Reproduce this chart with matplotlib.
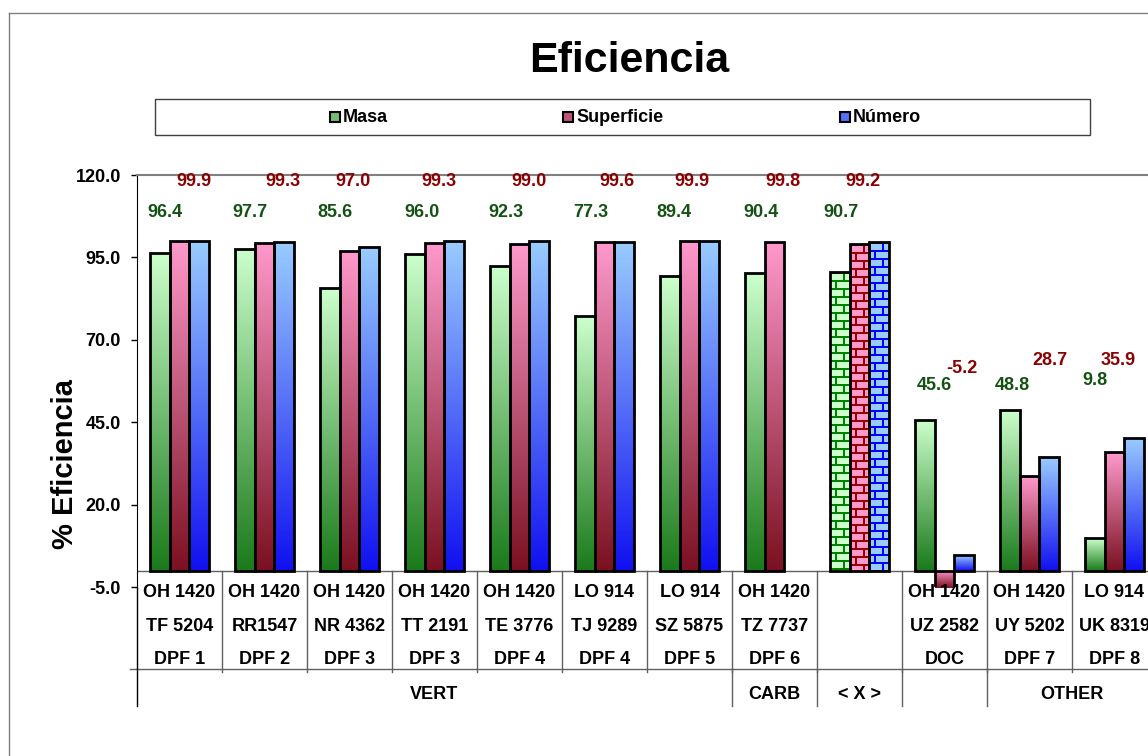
import matplotlib.pyplot as plt
import numpy as np
from matplotlib.colors import LinearSegmentedColormap, to_rgb
from matplotlib.lines import Line2D
from matplotlib.patches import Rectangle

plt.rcParams['font.family'] = 'Liberation Sans'
plt.rcParams['font.weight'] = 'bold'

# etiquetas del eje (tres lineas por equipo + grupo)
linea1 = ['OH 1420', 'OH 1420', 'OH 1420', 'OH 1420', 'OH 1420', 'LO 914', 'LO 914',
          'OH 1420', '', 'OH 1420', 'OH 1420', 'LO 914']
linea2 = ['TF 5204', 'RR1547', 'NR 4362', 'TT 2191', 'TE 3776', 'TJ 9289', 'SZ 5875',
          'TZ 7737', '', 'UZ 2582', 'UY 5202', 'UK 8319']
linea3 = ['DPF 1', 'DPF 2', 'DPF 3', 'DPF 3', 'DPF 4', 'DPF 4', 'DPF 5',
          'DPF 6', '', 'DOC', 'DPF 7', 'DPF 8']
grupos = ['VERT', 'CARB', '< X >', '', 'OTHER']
tam_grupos = [7, 1, 1, 1, 2]

# eficiencias (%)
masa = [96.4, 97.7, 85.6, 96.0, 92.3, 77.3, 89.4, 90.4, 90.7, 45.6, 48.8, 9.8]
superficie = [99.9, 99.3, 97.0, 99.3, 99.0, 99.6, 99.9, 99.8, 99.2, -5.2, 28.7, 35.9]
numero = [99.9, 99.7, 98.3, 99.9, 99.9, 99.6, 99.9, np.nan, 99.8, 4.7, 34.3, 40.1]

idx_media = 8  # columna < X > (promedio), con relleno de ladrillos

# posicion de las etiquetas de valor
masa_lbl_y = [108.5] * 9 + [56.0, 56.0, 57.8]
sup_lbl_y = [117.9] * 9 + [61.4, 63.6, 63.6]
masa_lbl_dx = [-15, -15, -15, -13, -14, -14, -16, -14, -19, -10, -17, -20]
sup_lbl_dx = [14, 18, 4, 4, 9, 12, 2, 8, 3, 17, 20, 4]

W, H = 1148, 756
fig = plt.figure(figsize=(W / 100, H / 100), dpi=100)


def fx(px):
    return px / W


def fy(py):
    return 1 - py / H


ax = fig.add_axes([fx(137), fy(587), 1020 / W, 412 / H])
ppu = 412 / 125  # pixeles por unidad en y
grupo_px = 85

x = np.arange(len(masa))
ancho = 19.5 / grupo_px

series = [
    (masa, -ancho, '#CCFFCC', '#1A7A1A', '#008000'),
    (superficie, 0, '#FF99CC', '#7A1020', '#990000'),
    (numero, ancho, '#99CCFF', '#1010F0', '#0000FF'),
]


def ladrillos(h_px, w_px, claro, linea):
    img = np.ones((h_px, w_px, 3)) * np.array(to_rgb(claro))
    filas = np.arange(h_px)[:, None]
    cols = np.arange(w_px)[None, :]
    desfase = np.where((filas // 8) % 2 == 0, 3, 11)
    junta = ((filas % 8) < 2) | (((cols + desfase) % 16) < 2)
    img[junta] = to_rgb(linea)
    return img


for vals, off, claro, oscuro, linea in series:
    barras = ax.bar(x + off, vals, ancho, facecolor='none', edgecolor='black',
                    linewidth=2, zorder=3)
    for i, b in enumerate(barras):
        if np.isnan(vals[i]):
            continue
        x0 = b.get_x()
        y0, y1 = sorted([0, vals[i]])
        ext = [x0, x0 + ancho, y0, y1]
        if i == idx_media:
            img = ladrillos(int(round((y1 - y0) * ppu)), 20, claro, linea)
            im = ax.imshow(img, extent=ext, aspect='auto', interpolation='nearest', zorder=2)
        else:
            cmap = LinearSegmentedColormap.from_list('g', [oscuro, claro])
            grad = np.linspace(0, 1, 256).reshape(-1, 1)
            im = ax.imshow(grad, extent=ext, origin='lower', cmap=cmap, aspect='auto',
                           interpolation='bilinear', zorder=2)
        im.set_clip_path(b)

ax.set_xlim(-0.5, len(masa) - 0.5)
ax.set_ylim(-5, 120)
ax.set_yticks(np.arange(-5, 121, 25))
ax.set_yticklabels(['%.1f' % v for v in np.arange(-5, 121, 25)], fontsize=13, fontweight='bold')
ax.set_xticks([])
ax.tick_params(axis='y', length=4.5, width=1, pad=7)

ax.spines['bottom'].set_visible(False)
ax.spines['top'].set_color('#808080')
ax.spines['top'].set_linewidth(1.5)
ax.spines['right'].set_color('#808080')
ax.spines['left'].set_color('black')
ax.axhline(0, color='#606060', lw=1, zorder=1)

# etiquetas de valor
for i in x:
    ax.text(i + masa_lbl_dx[i] / grupo_px, masa_lbl_y[i], '%.1f' % masa[i], ha='center',
            va='center', fontsize=13, fontweight='bold', color='#145214')
    ax.text(i + sup_lbl_dx[i] / grupo_px, sup_lbl_y[i], '%.1f' % superficie[i], ha='center',
            va='center', fontsize=13, fontweight='bold', color='#8B0000')

# tabla de categorias bajo el eje
tr = ax.get_xaxis_transform()
y_cero = 5 / 125
gris = '#606060'
for i in range(1, len(masa) + 1):
    ax.plot([i - 0.5, i - 0.5], [y_cero, -0.206], transform=tr, color=gris, lw=1, clip_on=False)
ax.plot([-0.5 - 7 / grupo_px, len(masa) - 0.5], [-0.198, -0.198], transform=tr, color=gris,
        lw=1, clip_on=False)
ax.plot([-0.5, -0.5], [0, -0.289], transform=tr, color='black', lw=1, clip_on=False)
bordes = np.cumsum([0] + tam_grupos) - 0.5
for b in bordes[1:]:
    ax.plot([b, b], [-0.198, -0.289], transform=tr, color=gris, lw=1, clip_on=False)

for i in x:
    for txt, yy in [(linea1[i], -0.0138), (linea2[i], -0.0964), (linea3[i], -0.177)]:
        ax.text(i, yy, txt, transform=tr, ha='center', va='center', fontsize=13,
                fontweight='bold')
for g, a, b in zip(grupos, bordes[:-1], bordes[1:]):
    ax.text((a + b) / 2, -0.262, g, transform=tr, ha='center', va='center', fontsize=13,
            fontweight='bold')

# titulo, eje y, leyenda
fig.text(fx(629), fy(61), 'Eficiencia', ha='center', va='center', fontsize=31, fontweight='bold')
fig.text(fx(65), fy(464), '% Eficiencia', rotation=90, ha='center', va='center', fontsize=21,
         fontweight='bold')

fig.add_artist(Rectangle((fx(155), fy(135)), fx(1090) - fx(155), fy(99) - fy(135),
                         transform=fig.transFigure, facecolor='white', edgecolor='#404040',
                         lw=1))
nombres = ['Masa', 'Superficie', 'Número']
pos_ley = [335, 568, 845]
for (vals, off, claro, oscuro, linea), nom, px in zip(series, nombres, pos_ley):
    medio = tuple((np.array(to_rgb(claro)) + np.array(to_rgb(oscuro))) / 2)
    fig.add_artist(Rectangle((fx(px - 5), fy(122)), 10 / W, 10 / H, transform=fig.transFigure,
                             facecolor=medio, edgecolor='black', lw=1.5))
    fig.text(fx(px + 8), fy(117), nom, ha='left', va='center', fontsize=13, fontweight='bold')

# marco del grafico
fig.add_artist(Line2D([fx(8.5), fx(8.5)], [0, fy(12.5)], transform=fig.transFigure,
                      color='#808080', lw=1))
fig.add_artist(Line2D([fx(8.5), 1], [fy(12.5), fy(12.5)], transform=fig.transFigure,
                      color='#808080', lw=1))

fig.savefig('out.png', dpi=100, facecolor='white')
